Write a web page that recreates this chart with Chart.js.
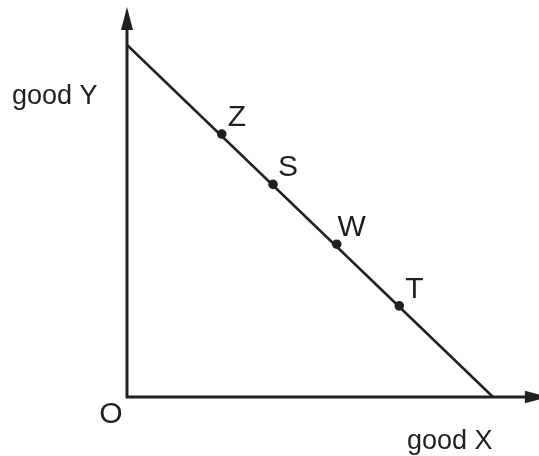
<!DOCTYPE html>
<html>
<head>
<meta charset="utf-8">
<script src="https://cdn.jsdelivr.net/npm/chart.js@4/dist/chart.umd.min.js"></script>
<style>
  html, body { margin: 0; padding: 0; background: #fff; }
  #budget { display: block; }
</style>
</head>
<body>
<canvas id="budget" width="539" height="456"></canvas>
<script>
// budget line end points (good X, good Y)
var lineX = [0, 10];
var lineY = [10, 0];
// bundles on the line
var pointNames = ["Z", "S", "W", "T"];
var pointX = [2.59, 3.99, 5.73, 7.44];
var pointY = [7.47, 6.04, 4.34, 2.59];
// axis titles and ends
var axisNames = ["good X", "good Y"];
var xAxisEnd = 11.5;
var yAxisEnd = 11.08;

var ink = "#231f20";

var drawAxes = {
    id: 'drawAxes',
    beforeDatasetsDraw: function(chart) {
        var c = chart.ctx;
        var xs = chart.scales.x, ys = chart.scales.y;
        var ox = xs.getPixelForValue(0), oy = ys.getPixelForValue(0);
        var xe = xs.getPixelForValue(xAxisEnd), ye = ys.getPixelForValue(yAxisEnd);
        c.save();
        c.strokeStyle = ink;
        c.fillStyle = ink;
        c.lineWidth = 3;
        c.beginPath();
        c.moveTo(ox, ye + 20);
        c.lineTo(ox, oy);
        c.lineTo(xe - 20, oy);
        c.stroke();
        // arrow heads
        c.beginPath();
        c.moveTo(ox, ye);
        c.lineTo(ox - 6, ye + 23);
        c.lineTo(ox + 6, ye + 23);
        c.closePath();
        c.fill();
        c.beginPath();
        c.moveTo(xe, oy);
        c.lineTo(xe - 23, oy - 6.3);
        c.lineTo(xe - 23, oy + 6.3);
        c.closePath();
        c.fill();
        c.restore();
    },
    afterDatasetsDraw: function(chart) {
        var c = chart.ctx;
        var xs = chart.scales.x, ys = chart.scales.y;
        var ox = xs.getPixelForValue(0), oy = ys.getPixelForValue(0);
        c.save();
        c.fillStyle = ink;
        c.textBaseline = 'alphabetic';
        c.font = '30px "Liberation Sans", Arial, sans-serif';
        c.textAlign = 'center';
        pointNames.forEach(function(n, i) {
            var px = xs.getPixelForValue(pointX[i]);
            var py = ys.getPixelForValue(pointY[i]);
            c.fillText(n, px + 15, py - 8);
        });
        c.fillText("O", ox - 16, oy + 26);
        c.font = '27px "Liberation Sans", Arial, sans-serif';
        c.textAlign = 'left';
        c.fillText(axisNames[1], 12, ys.getPixelForValue(lineY[0]) + 59);
        c.fillText(axisNames[0], 407, oy + 52);
        c.restore();
    }
};

var ctx = document.getElementById("budget").getContext("2d");
var budgetChart = new Chart(ctx, {
    type: 'scatter',
    data: {
        datasets: [{
            label: 'budget line',
            data: lineX.map(function(x, i) { return {x: x, y: lineY[i]}; }),
            showLine: true,
            borderColor: ink,
            borderWidth: 2.6,
            pointRadius: 0,
            fill: false
        }, {
            label: 'bundles',
            data: pointX.map(function(x, i) { return {x: x, y: pointY[i]}; }),
            backgroundColor: ink,
            borderColor: ink,
            borderWidth: 0,
            pointRadius: 4.8
        }]
    },
    options: {
        responsive: false,
        animation: false,
        events: [],
        layout: { autoPadding: false, padding: { left: 127, right: 0, top: 0, bottom: 59 } },
        plugins: { legend: { display: false }, tooltip: { enabled: false } },
        scales: {
            x: { type: 'linear', display: false, min: 0, max: 11.257 },
            y: { type: 'linear', display: false, min: 0, max: 11.278 }
        }
    },
    plugins: [drawAxes]
});
</script>
</body>
</html>
